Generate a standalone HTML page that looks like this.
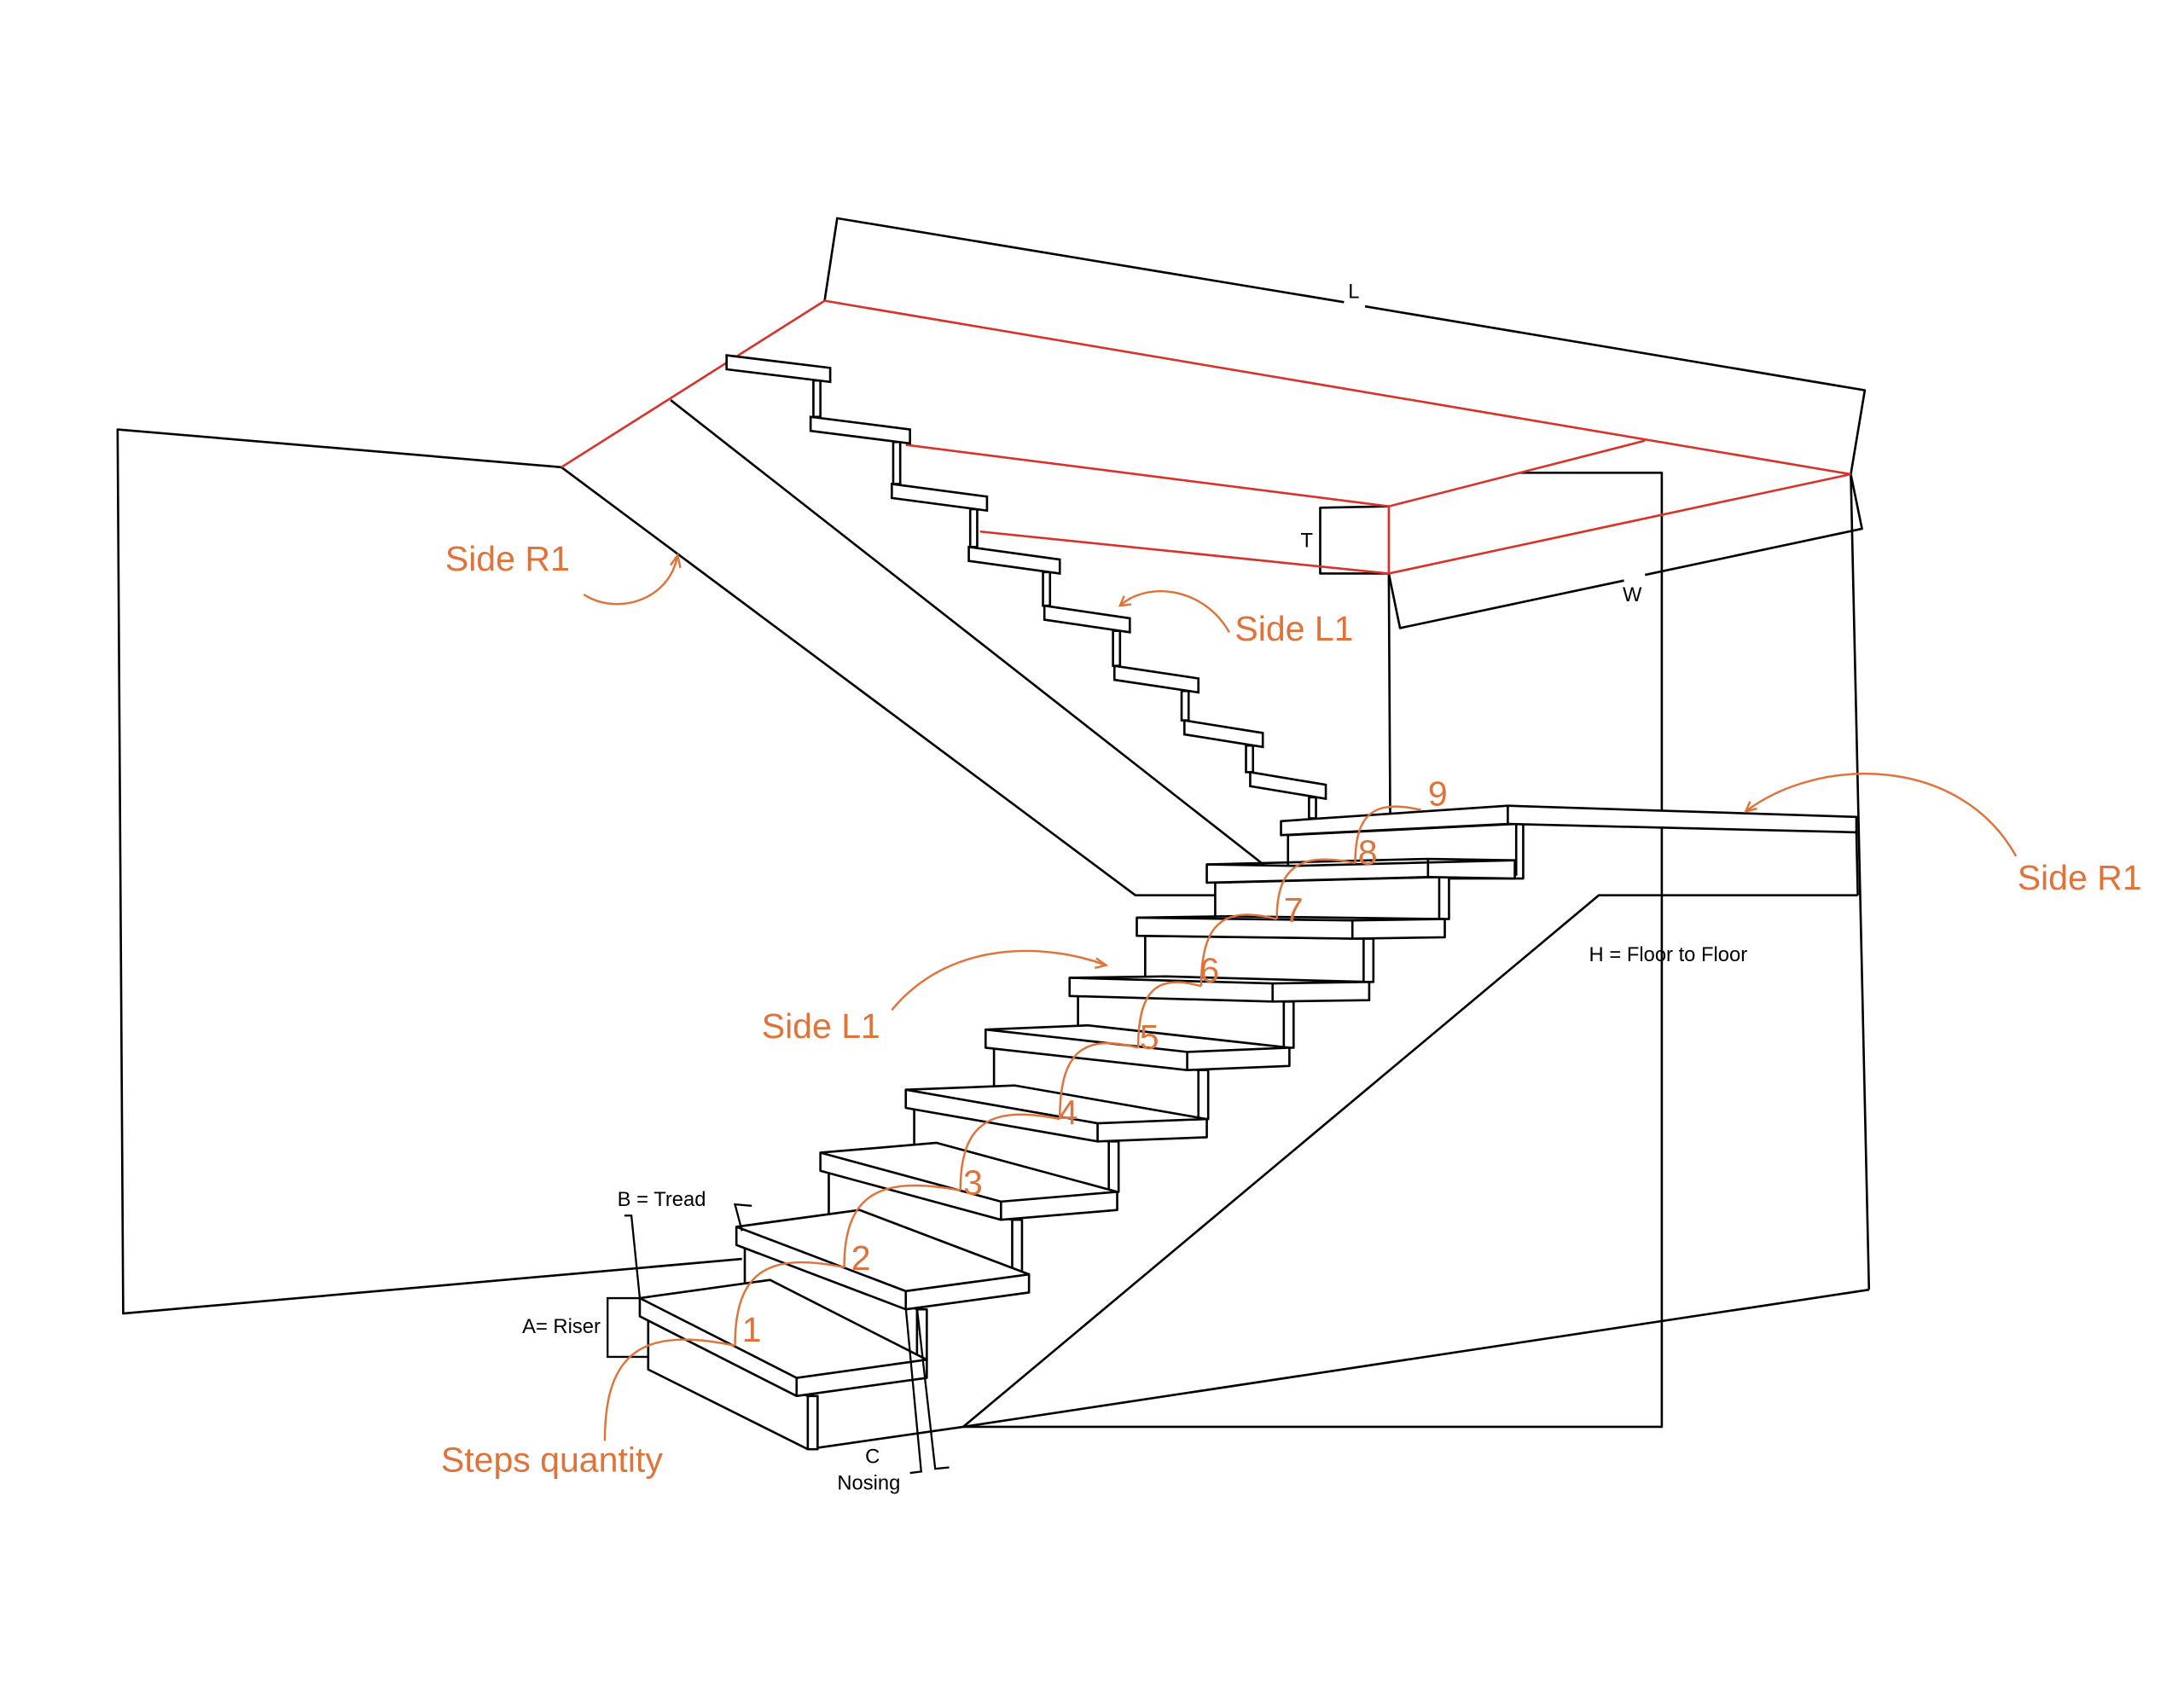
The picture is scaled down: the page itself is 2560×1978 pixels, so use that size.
<!DOCTYPE html>
<html><head><meta charset="utf-8"><style>
html,body{margin:0;padding:0;background:#fff}
svg{display:block}
text{font-family:"Liberation Sans",sans-serif}
.o{fill:#E0733A;font-size:25px}
.b{fill:#000;font-size:14.5px}
</style></head><body>
<svg width="2560" height="1978" viewBox="0 0 1560 1206" preserveAspectRatio="none" xmlns="http://www.w3.org/2000/svg">
<g fill="none" stroke="#000" stroke-width="1.6" stroke-linejoin="round">
<polyline points="401,334 84,307 88,939 530,900"/>
<polyline points="401,334 811,640 870,640"/>
<line x1="479" y1="286" x2="905" y2="620"/>
<line x1="1322" y1="339" x2="1335" y2="922"/>
<line x1="1335" y1="922" x2="688" y2="1020"/>
<polyline points="688,1020 1142,640 1327,640"/>
<polyline points="1085,338 1187,338 1187,1020 688,1020"/>
<line x1="577" y1="1036" x2="688" y2="1020"/>
<line x1="992" y1="410" x2="993" y2="585"/>
<polyline points="589,215 598,156 960,216"/>
<polyline points="975,219 1332,279 1322,339"/>
<polyline points="992,410 1000,449 1160,415"/>
<polyline points="1175,411 1330,378 1322,339"/>
<polyline points="992,362 943,363 943,410 992,410"/>
</g>
<g stroke="#D8322B" stroke-width="1.6" fill="none">
<polyline points="401,334 589,215 1322,339 992,410 700,380"/>
<polyline points="647,318 992,362 1175,315"/>
<line x1="992" y1="362" x2="992" y2="410"/>
</g>
<g fill="#fff" stroke="#000" stroke-width="1.6">
<rect x="935" y="570" width="5" height="15"/><polygon points="893,552 947,561 947,571 893,562"/>
<rect x="890" y="533" width="5" height="19"/><polygon points="846,515 902,524 902,534 846,525"/>
<rect x="844" y="494" width="5" height="21"/><polygon points="796,476 856,485 856,495 796,486"/>
<rect x="795" y="451" width="5" height="25"/><polygon points="746,433 807,442 807,452 746,443"/>
<rect x="745" y="409" width="5" height="24"/><polygon points="692,391 757,400 757,410 692,401"/>
<rect x="693" y="364" width="5" height="27"/><polygon points="637,346 705,355 705,365 637,356"/>
<rect x="638" y="316" width="5" height="30"/><polygon points="579,298 650,307 650,317 579,308"/>
<rect x="581" y="272" width="5" height="26"/><polygon points="519,254 593,263 593,273 519,264"/>
</g>
<g fill="#fff" stroke="#000" stroke-width="1.6" stroke-linejoin="round">
<polygon points="920,597 1083,589 1088,589 1088,628 920,628"/>
<polygon points="915,587 1077,576 1326,584 1326,595 1077,589 915,597"/>
<line x1="1077" y1="576" x2="1077" y2="589"/>
<line x1="1083" y1="589" x2="1083" y2="626"/>
<line x1="1326" y1="595" x2="1327" y2="640"/>
</g>
<g fill="#fff" stroke="#000" stroke-width="1.6" stroke-linejoin="round">
<!-- step 8 -->
<polygon points="868,631 1028,627 1035,627 1035,657 1028,657 868,661"/>
<line x1="1028" y1="627" x2="1028" y2="657"/>
<polygon points="862,618 924,619 1082,615 1082,628 1020,627 862,631"/>
<polyline fill="none" points="862,618 1020,614 1082,615"/><line x1="1020" y1="614" x2="1020" y2="627"/>
<!-- step 7 -->
<polygon points="818,669 974,671 981,671 981,702 974,702 818,700"/>
<line x1="974" y1="671" x2="974" y2="702"/>
<polygon points="812,656 878,655 1032,657 1032,670 966,671 812,669"/>
<polyline fill="none" points="812,656 966,658 1032,657"/><line x1="966" y1="658" x2="966" y2="671"/>
<!-- step 6 -->
<polygon points="770,712 917,716 924,716 924,749 917,749 770,745"/>
<line x1="917" y1="716" x2="917" y2="749"/>
<polygon points="764,699 833,698 978,702 978,715 909,716 764,712"/>
<polyline fill="none" points="764,699 909,703 978,702"/><line x1="909" y1="703" x2="909" y2="716"/>
<!-- step 5 -->
<polygon points="710,749 856,765 863,765 863,800 856,800 710,784"/>
<line x1="856" y1="765" x2="856" y2="800"/>
<polygon points="704,736 777,733 921,749 921,762 848,765 704,749"/>
<polyline fill="none" points="704,736 848,752 921,749"/><line x1="848" y1="752" x2="848" y2="765"/>
<!-- step 4 -->
<polygon points="653,792 792,816 799,816 799,852 792,852 653,828"/>
<line x1="792" y1="816" x2="792" y2="852"/>
<polygon points="647,779 725,776 862,800 862,813 784,816 647,792"/>
<polyline fill="none" points="647,779 784,803 862,800"/><line x1="784" y1="803" x2="784" y2="816"/>
<!-- step 3 -->
<polygon points="592,837 723,872 730,872 730,913 723,913 592,878"/>
<line x1="723" y1="872" x2="723" y2="913"/>
<polygon points="586,824 669,817 798,852 798,865 715,872 586,837"/>
<polyline fill="none" points="586,824 715,859 798,852"/><line x1="715" y1="859" x2="715" y2="872"/>
<!-- step 2 -->
<polygon points="532,890 655,936 662,936 662,973 655,973 532,927"/>
<line x1="655" y1="936" x2="655" y2="973"/>
<polygon points="526,877 614,865 735,911 735,924 647,936 526,890"/>
<polyline fill="none" points="526,877 647,923 735,911"/><line x1="647" y1="923" x2="647" y2="936"/>
<!-- step 1 -->
<polygon points="463,941 577,998 584,998 584,1036 577,1036 463,979"/>
<line x1="577" y1="998" x2="577" y2="1036"/>
<polygon points="457,928 550,915 662,972 662,985 569,998 457,941"/>
<polyline fill="none" points="457,928 569,985 662,972"/><line x1="569" y1="985" x2="569" y2="998"/>
</g>
<g fill="none" stroke="#000" stroke-width="1.4">
<polyline points="446,869 451,869 457,928"/>
<polyline points="537,862 525,861 530,880"/>
<polyline points="457,928 434,928 434,970 463,970"/>
<polyline points="647,935 658,1052 650,1053"/>
<polyline points="655,935 668,1050 678,1049"/>
</g>
<g fill="none" stroke="#E0733A" stroke-width="1.5">
<path d="M417,425 C440,440 478,430 484,397"/>
<path d="M479,404 L484,397 L486,406"/>
<path d="M878,452 C860,420 820,415 800,433"/>
<path d="M803,426 L800,433 L808,432"/>
<path d="M1440,612 C1400,540 1300,540 1247,580"/>
<path d="M1250,573 L1247,580 L1255,578"/>
<path d="M637,722 C680,670 750,675 790,690"/>
<path d="M783,685 L790,690 L782,692"/>
<path d="M432,1030 C432,965.4 459.9,948.4 525,962"/>
<path d="M525,962 C525,908.8 548.4,894.8 603,906"/>
<path d="M603,906 C603,853.75 627.9,840 686,851"/>
<path d="M686,851 C686,802.5 707.3,789.8 757,800"/>
<path d="M757,800 C757,751.5 773.8,738.8 813,749"/>
<path d="M813,749 C813,707.2 826.5,696.2 858,705"/>
<path d="M858,705 C858,659.4 874.2,647.4 912,657"/>
<path d="M912,657 C912,619 928.8,609 968,617"/>
<path d="M968,617 C968,580.9 982.1,571.4 1015,579"/>
</g>
<text class="o" x="318" y="408">Side R1</text>
<text class="o" x="882" y="458">Side L1</text>
<text class="o" x="1441" y="636">Side R1</text>
<text class="o" x="544" y="742">Side L1</text>
<text class="o" x="315" y="1052">Steps quantity</text>
<text class="o" x="530" y="959">1</text>
<text class="o" x="608" y="908">2</text>
<text class="o" x="688" y="854">3</text>
<text class="o" x="756" y="804">4</text>
<text class="o" x="814" y="750">5</text>
<text class="o" x="857" y="702">6</text>
<text class="o" x="917" y="659">7</text>
<text class="o" x="970" y="618">8</text>
<text class="o" x="1020" y="576">9</text>
<text class="b" x="963" y="213">L</text>
<text class="b" x="1159" y="430">W</text>
<text class="b" x="929" y="391">T</text>
<text class="b" x="1135" y="687">H = Floor to Floor</text>
<text class="b" x="441" y="862">B = Tread</text>
<text class="b" x="373" y="953">A= Riser</text>
<text class="b" x="618" y="1046">C</text>
<text class="b" x="598" y="1065">Nosing</text>
</svg>
</body></html>
